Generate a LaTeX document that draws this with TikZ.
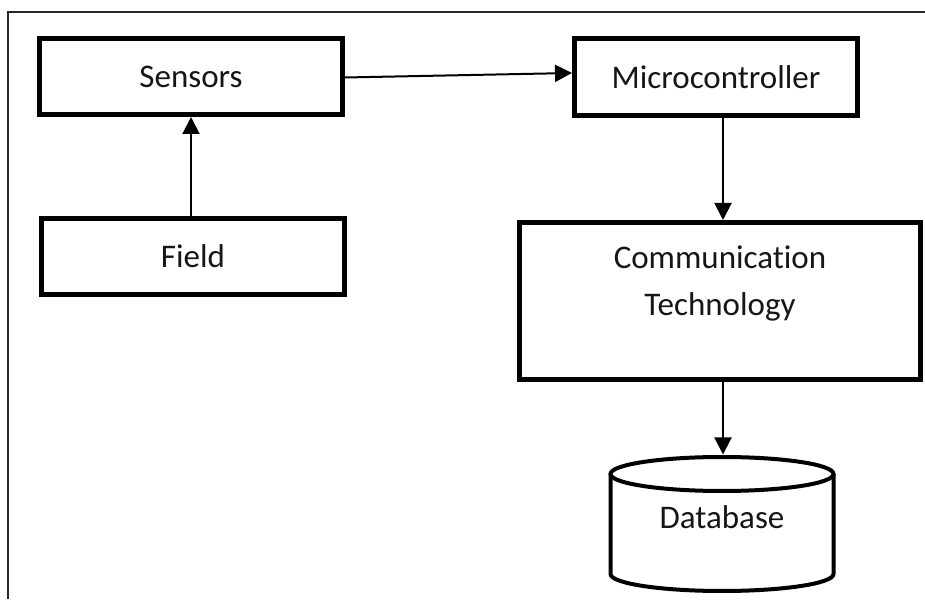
\documentclass[tikz,border=0pt]{standalone}
\usepackage{fontspec}
\setmainfont[Ligatures=NoCommon]{Carlito}
\usetikzlibrary{arrows.meta,calc}

\definecolor{ink}{RGB}{22,22,26}
\definecolor{framegray}{RGB}{40,40,40}

\tikzset{
  blockbox/.style={draw=black, line width=5pt, fill=white, inner sep=0pt,
    text=ink, font=\fontsize{33}{47}\selectfont},
  caption/.style={text=ink, inner sep=0pt, align=center,
    font=\fontsize{33}{47}\selectfont},
  flow/.style={draw=black, line width=2pt,
    -{Triangle[length=17pt,width=17pt]}},
  dbline/.style={draw=black, line width=4pt},
  frame/.style={draw=framegray, line width=2pt}
}

\begin{document}
\begin{tikzpicture}[x=1pt,y=1pt]
  \useasboundingbox (0,0) rectangle (925,599);

  % open frame: only the top and left edges are visible
  \draw[frame] (8,0) -- (8,587) -- (925,587);

  % blocks
  \node[blockbox, minimum width=303, minimum height=76] (sens)  at (191,522.5) {Sensors};
  \node[blockbox, minimum width=303, minimum height=76] (field) at (193,342.5) {Field};
  \node[blockbox, minimum width=283, minimum height=77] (micro) at (716,522)   {Microcontroller};
  \node[blockbox, minimum width=401, minimum height=157] (comm) at (720,298)   {};
  \node[caption] (commtext) at (720,316) {Communication\\Technology};

  % database cylinder
  \draw[dbline, fill=white] (610.5,125) -- (610.5,25)
    arc[start angle=180, end angle=360, x radius=111.5, y radius=17]
    -- (833.5,125);
  \draw[dbline, fill=white] (722,125) ellipse [x radius=111.5, y radius=17];
  \node[caption] (db) at (722,82) {Database};
  \coordinate (dbtop) at (723,144.5);

  % connectors
  \draw[flow] (sens.south |- field.north) -- (sens.south);
  \draw[flow] ([yshift=-1pt]sens.east) -- ([yshift=4pt]micro.west);
  \draw[flow] (micro.south -| dbtop) -- (comm.north -| dbtop);
  \draw[flow] (comm.south -| dbtop) -- (dbtop);
\end{tikzpicture}
\end{document}
